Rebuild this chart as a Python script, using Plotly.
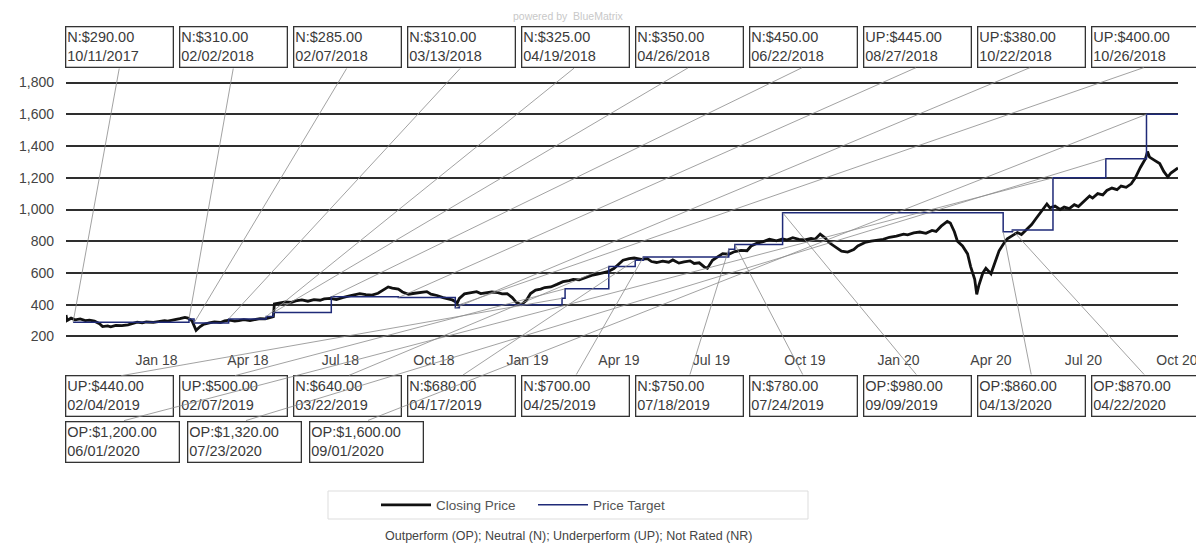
import pandas as pd
import plotly.graph_objects as go

# ---------------- data ----------------
price_dates = [
    "2017-10-04", "2017-10-05", "2017-10-09", "2017-10-13", "2017-10-18", "2017-10-23", "2017-10-27",
    "2017-11-01", "2017-11-06", "2017-11-09", "2017-11-14", "2017-11-17", "2017-11-22", "2017-11-28",
    "2017-12-04", "2017-12-08", "2017-12-13", "2017-12-18", "2017-12-22", "2017-12-29", "2018-01-04",
    "2018-01-09", "2018-01-12", "2018-01-18", "2018-01-24", "2018-01-29", "2018-02-01", "2018-02-05",
    "2018-02-08", "2018-02-09", "2018-02-13", "2018-02-16", "2018-02-22", "2018-02-27", "2018-03-05",
    "2018-03-09", "2018-03-14", "2018-03-19", "2018-03-23", "2018-03-28", "2018-04-03", "2018-04-09",
    "2018-04-13", "2018-04-18", "2018-04-24", "2018-04-26", "2018-04-27", "2018-05-02", "2018-05-08",
    "2018-05-14", "2018-05-18", "2018-05-24", "2018-05-30", "2018-06-05", "2018-06-11", "2018-06-15",
    "2018-06-21", "2018-06-27", "2018-07-03", "2018-07-10", "2018-07-16", "2018-07-20", "2018-07-26",
    "2018-08-01", "2018-08-07", "2018-08-13", "2018-08-17", "2018-08-21", "2018-08-27", "2018-08-31",
    "2018-09-06", "2018-09-12", "2018-09-18", "2018-09-24", "2018-09-28", "2018-10-04", "2018-10-10",
    "2018-10-15", "2018-10-19", "2018-10-24", "2018-10-26", "2018-10-31", "2018-11-06", "2018-11-12",
    "2018-11-16", "2018-11-21", "2018-11-27", "2018-12-03", "2018-12-07", "2018-12-12", "2018-12-17",
    "2018-12-21", "2018-12-26", "2018-12-31", "2019-01-04", "2019-01-09", "2019-01-14", "2019-01-18",
    "2019-01-24", "2019-01-30", "2019-02-05", "2019-02-11", "2019-02-15", "2019-02-21", "2019-02-27",
    "2019-03-05", "2019-03-11", "2019-03-15", "2019-03-21", "2019-03-27", "2019-04-02", "2019-04-05",
    "2019-04-11", "2019-04-16", "2019-04-23", "2019-04-29", "2019-05-03", "2019-05-08", "2019-05-14",
    "2019-05-20", "2019-05-24", "2019-05-30", "2019-06-04", "2019-06-10", "2019-06-14", "2019-06-19",
    "2019-06-24", "2019-06-27", "2019-07-02", "2019-07-08", "2019-07-12", "2019-07-18", "2019-07-24",
    "2019-07-30", "2019-08-05", "2019-08-09", "2019-08-15", "2019-08-21", "2019-08-27", "2019-09-03",
    "2019-09-09", "2019-09-13", "2019-09-19", "2019-09-25", "2019-10-01", "2019-10-07", "2019-10-11",
    "2019-10-16", "2019-10-21", "2019-10-25", "2019-10-31", "2019-11-06", "2019-11-12", "2019-11-18",
    "2019-11-22", "2019-11-29", "2019-12-05", "2019-12-11", "2019-12-17", "2019-12-23", "2019-12-30",
    "2020-01-06", "2020-01-10", "2020-01-16", "2020-01-22", "2020-01-28", "2020-02-03", "2020-02-07",
    "2020-02-12", "2020-02-18", "2020-02-21", "2020-02-25", "2020-02-28", "2020-03-04", "2020-03-09",
    "2020-03-12", "2020-03-16", "2020-03-18", "2020-03-20", "2020-03-24", "2020-03-27", "2020-04-01",
    "2020-04-06", "2020-04-09", "2020-04-14", "2020-04-17", "2020-04-22", "2020-04-27", "2020-05-01",
    "2020-05-06", "2020-05-11", "2020-05-15", "2020-05-20", "2020-05-26", "2020-05-29", "2020-06-03",
    "2020-06-08", "2020-06-12", "2020-06-17", "2020-06-22", "2020-06-26", "2020-07-01", "2020-07-07",
    "2020-07-10", "2020-07-15", "2020-07-20", "2020-07-24", "2020-07-29", "2020-08-03", "2020-08-07",
    "2020-08-12", "2020-08-17", "2020-08-21", "2020-08-26", "2020-08-31", "2020-09-02", "2020-09-04",
    "2020-09-09", "2020-09-14", "2020-09-18", "2020-09-22", "2020-09-25", "2020-09-30", "2020-10-02",
]
price_values = [
    335, 300, 315, 305, 310, 300, 303,
    296, 280, 262, 266, 260, 270, 268,
    273, 282, 290, 285, 291, 288, 295,
    300, 296, 302, 312, 320, 316, 298,
    250, 238, 262, 275, 285, 292, 288,
    298, 302, 296, 300, 306, 300, 306,
    312, 310, 318, 325, 405, 412, 418,
    415, 424, 430, 422, 432, 428, 436,
    440, 432, 445, 455, 462, 470, 464,
    460, 472, 495, 512, 505, 498, 480,
    466, 472, 478, 482, 466, 458, 445,
    438, 430, 412, 440, 468, 475, 482,
    470, 474, 480, 476, 468, 470, 445,
    415, 400, 428, 470, 492, 498, 508,
    512, 528, 545, 552, 560, 556, 570,
    585, 592, 600, 608, 628, 660, 680,
    690, 694, 686, 690, 672, 666, 675,
    668, 682, 662, 670, 676, 660, 664,
    638, 630, 680, 705, 722, 718, 735,
    742, 740, 770, 788, 798, 812, 802,
    815, 808, 822, 812, 808, 818, 812,
    845, 820, 790, 762, 738, 732, 748,
    770, 792, 800, 808, 812, 825, 832,
    845, 840, 852, 858, 850, 868, 862,
    895, 925, 915, 860, 800, 770, 720,
    640, 560, 465, 520, 600, 630, 595,
    680, 740, 790, 815, 835, 855, 842,
    875, 905, 940, 985, 1035, 1010, 1022,
    1000, 1015, 1005, 1030, 1018, 1050, 1085,
    1072, 1100, 1092, 1120, 1135, 1125, 1148,
    1140, 1162, 1200, 1265, 1320, 1365, 1330,
    1310, 1290, 1240, 1205, 1230, 1250, 1262,
]

rating_labels = ["N", "N", "N", "N", "N", "N", "N", "UP", "UP", "UP",
                 "UP", "UP", "N", "N", "N", "N", "N", "OP", "OP", "OP",
                 "OP", "OP", "OP"]
target_values = [290, 310, 285, 310, 325, 350, 450, 445, 380, 400,
                 440, 500, 640, 680, 700, 750, 780, 980, 860, 870,
                 1200, 1320, 1600]
target_dates = ["2017-10-11", "2018-02-02", "2018-02-07", "2018-03-13", "2018-04-19",
                "2018-04-26", "2018-06-22", "2018-08-27", "2018-10-22", "2018-10-26",
                "2019-02-04", "2019-02-07", "2019-03-22", "2019-04-17", "2019-04-25",
                "2019-07-18", "2019-07-24", "2019-09-09", "2020-04-13", "2020-04-22",
                "2020-06-01", "2020-07-23", "2020-09-01"]

y_ticks = [200, 400, 600, 800, 1000, 1200, 1400, 1600, 1800]
y_range = [190, 1810]
x_start, x_end = "2017-10-04", "2020-10-02"

# ---------------- layout constants (pixels) ----------------
W, H = 1204, 548
ML, MR, MT, MB = 58, 34, 73, 218
PW, PH = W - ML - MR, H - MT - MB
FONT = "Liberation Sans, Arial, sans-serif"


def px2paper_x(px):
    return (px - ML) / PW


def py2paper_y(py):
    return (H - MB - py) / PH


t0, t1 = pd.Timestamp(x_start), pd.Timestamp(x_end)
y0, y1 = y_range


def px2date(px):
    return (t0 + (t1 - t0) * ((px - ML) / PW)).strftime("%Y-%m-%d %H:%M:%S")


def py2val(py):
    return y0 + (y1 - y0) * ((H - MB - py) / PH)


fig = go.Figure()

fig.add_trace(go.Scatter(
    x=price_dates, y=price_values, mode="lines", name="Closing Price",
    line=dict(color="#111111", width=2.8), showlegend=True,
))
fig.add_trace(go.Scatter(
    x=target_dates + [price_dates[-1]], y=target_values + [target_values[-1]],
    mode="lines", name="Price Target", line=dict(color="#1f2a78", width=1.5, shape="hv"),
))

annotations = []
# box slot positions
slots = []
for i in range(10):  # top row
    slots.append(dict(cx=111.5 + 114 * i, cy=38.5, w=104, tail_y=59))
for i in range(10):  # bottom row 1
    slots.append(dict(cx=111.5 + 114 * i, cy=388, w=104, tail_y=368))
for i in range(3):  # bottom row 2
    slots.append(dict(cx=114.5 + 122 * i, cy=433.5, w=110, tail_y=413))

for k, (lab, val, d) in enumerate(zip(rating_labels, target_values, target_dates)):
    s = slots[k]
    mm, dd, yy = d[5:7], d[8:10], d[0:4]
    txt = f"{lab}:${val:,.2f}<br>{mm}/{dd}/{yy}"
    annotations.append(dict(
        xref="paper", yref="paper", x=px2paper_x(s["cx"]), y=py2paper_y(s["cy"]),
        xanchor="center", yanchor="middle", text=txt, showarrow=False,
        align="left", valign="middle", width=s["w"], height=37,
        bordercolor="#333333", borderwidth=1.3, borderpad=1,
        font=dict(family=FONT, size=14.5, color="#3a3a3a"),
    ))
for k, (val, d) in enumerate(zip(target_values, target_dates)):
    s = slots[k]
    annotations.append(dict(
        xref="x", yref="y", x=d, y=val, axref="x", ayref="y",
        ax=px2date(s["cx"]), ay=py2val(s["tail_y"]),
        text="", showarrow=True, arrowhead=0, arrowwidth=0.8, arrowcolor="#8a8a8a",
        standoff=0, startstandoff=0,
    ))

annotations.append(dict(
    xref="paper", yref="paper", x=px2paper_x(560), y=py2paper_y(7.5), xanchor="center",
    yanchor="middle", text="powered by  BlueMatrix", showarrow=False,
    font=dict(family=FONT, size=10.5, color="#c8c8c8"),
))
annotations.append(dict(
    xref="paper", yref="paper", x=px2paper_x(560), y=py2paper_y(528), xanchor="center",
    yanchor="middle", text="Outperform (OP); Neutral (N); Underperform (UP); Not Rated (NR)",
    showarrow=False, font=dict(family=FONT, size=12.5, color="#444444"),
))

shapes = [dict(
    type="rect", xref="paper", yref="paper",
    x0=px2paper_x(320), x1=px2paper_x(800), y0=py2paper_y(483), y1=py2paper_y(511),
    line=dict(color="#dddddd", width=1), fillcolor="rgba(0,0,0,0)", layer="below",
)]

fig.update_layout(
    width=W, height=H,
    margin=dict(l=ML, r=MR, t=MT, b=MB, pad=0),
    paper_bgcolor="white", plot_bgcolor="white",
    font=dict(family=FONT, size=14, color="#444444"),
    showlegend=True,
    legend=dict(
        orientation="h", x=px2paper_x(368), xanchor="left", y=py2paper_y(497),
        yanchor="middle", bgcolor="rgba(0,0,0,0)", borderwidth=0,
        font=dict(family=FONT, size=13.5, color="#555555"), itemwidth=50,
        entrywidth=92,
    ),
    annotations=annotations,
    shapes=shapes,
    xaxis=dict(
        type="date", range=[x_start, x_end], tick0="2018-01-01", dtick="M3",
        tickformat="%b %y", showgrid=False, zeroline=False, showline=False,
        ticks="", ticklabelstandoff=12, tickfont=dict(family=FONT, size=14, color="#444444"),
    ),
    yaxis=dict(
        range=y_range, tickvals=y_ticks, tickformat=",d", showgrid=True,
        gridcolor="#2e2e2e", gridwidth=1.6, zeroline=False, showline=False, ticks="",
        ticklabelstandoff=11, tickfont=dict(family=FONT, size=14, color="#444444"),
    ),
)

fig.write_html("out.html")
